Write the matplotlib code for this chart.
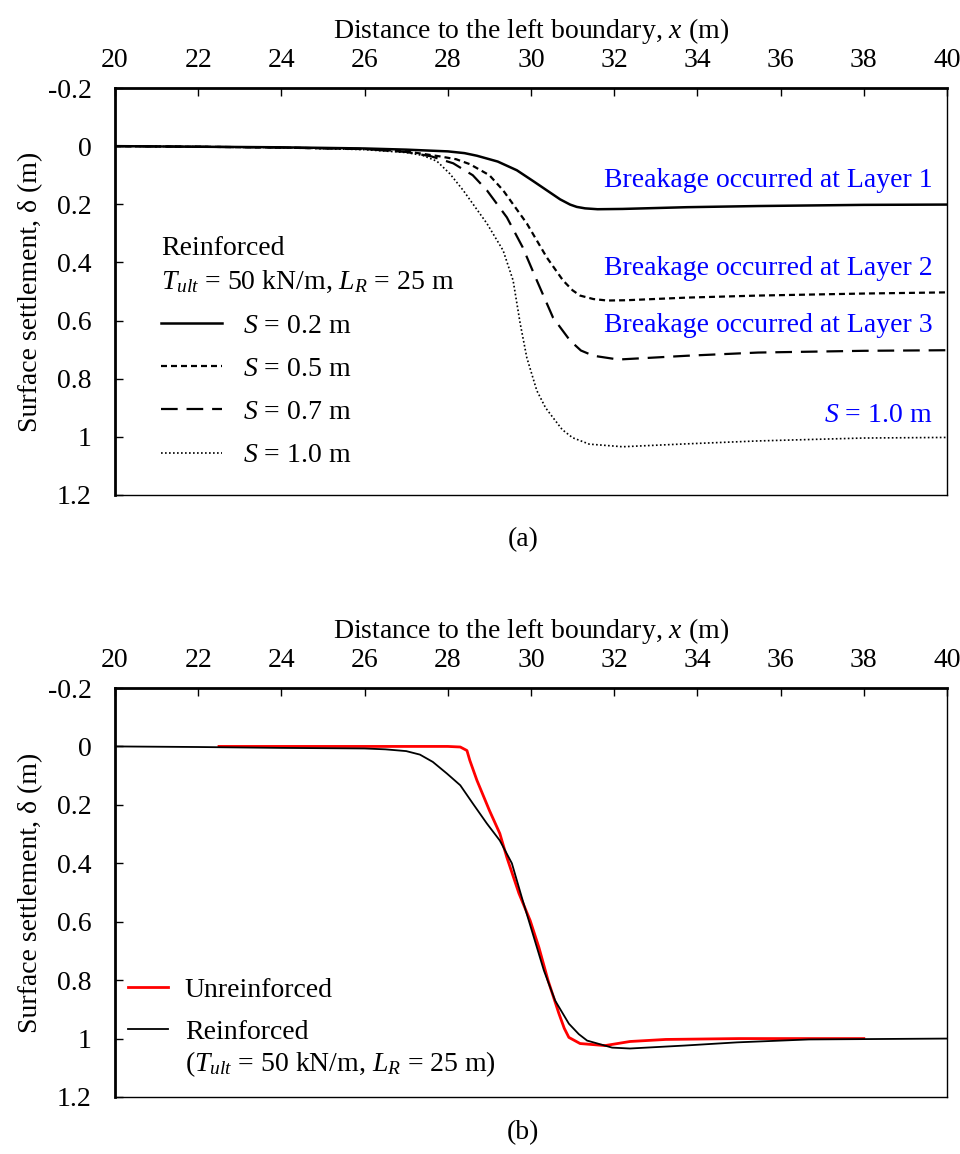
import numpy as np
import matplotlib
matplotlib.use('Agg')
import matplotlib.pyplot as plt

# ---------------- data ----------------
# (a) reinforced, Tult = 50 kN/m, LR = 25 m, different S
x_s02 = [20, 22, 24, 26, 27, 28, 28.4, 28.7, 29.2, 29.66, 30.05, 30.38, 30.7, 30.94, 31.1, 31.3, 31.6, 32.2, 33.75, 35.46, 38, 40]
y_s02 = [0, 0.002, 0.004, 0.008, 0.012, 0.018, 0.024, 0.033, 0.053, 0.083, 0.12, 0.152, 0.183, 0.201, 0.209, 0.214, 0.217, 0.216, 0.21, 0.206, 0.202, 0.201]

x_s05 = [20, 22, 24, 26, 27, 27.8, 28.2, 28.53, 29.0, 29.33, 29.9, 30.38, 30.77, 31.0, 31.18, 31.5, 31.83, 32.3, 33.75, 35.46, 38, 40]
y_s05 = [0, 0.002, 0.005, 0.01, 0.018, 0.035, 0.045, 0.062, 0.1, 0.152, 0.266, 0.383, 0.462, 0.496, 0.514, 0.526, 0.531, 0.53, 0.521, 0.514, 0.507, 0.503]

x_s07 = [20, 22, 24, 26, 27, 27.6, 28.13, 28.6, 28.94, 29.42, 29.8, 30.14, 30.53, 30.94, 31.2, 31.5, 32.1, 33.75, 35.46, 38, 40]
y_s07 = [0, 0.002, 0.005, 0.01, 0.02, 0.035, 0.059, 0.1, 0.152, 0.245, 0.348, 0.462, 0.59, 0.669, 0.703, 0.721, 0.734, 0.721, 0.71, 0.704, 0.702]

x_s10 = [20, 22, 24, 26, 27, 27.4, 27.74, 28.05, 28.37, 28.94, 29.33, 29.57, 29.74, 29.9, 30.14, 30.35, 30.53, 30.75, 31.0, 31.4, 32.2, 33.75, 35.46, 38, 40]
y_s10 = [0, 0.002, 0.005, 0.012, 0.022, 0.032, 0.052, 0.095, 0.152, 0.266, 0.359, 0.462, 0.61, 0.728, 0.841, 0.9, 0.934, 0.975, 1.003, 1.025, 1.034, 1.024, 1.014, 1.004, 1.002]

# (b) unreinforced vs reinforced
x_unr = [22.5, 24, 26, 28, 28.3, 28.46, 28.53, 28.7, 29.0, 29.25, 29.42, 29.71, 29.98, 30.19, 30.41, 30.67, 30.8, 30.91, 31.18, 31.78, 32.38, 33.24, 35, 38]
y_unr = [0, 0, 0, 0, 0.002, 0.014, 0.048, 0.116, 0.219, 0.298, 0.38, 0.503, 0.596, 0.688, 0.801, 0.914, 0.965, 0.996, 1.017, 1.024, 1.01, 1.003, 1.0, 1.0]

x_rei = [20, 22, 24, 26, 26.5, 27.0, 27.33, 27.64, 27.98, 28.3, 28.6, 28.94, 29.25, 29.54, 29.8, 30.07, 30.31, 30.58, 30.91, 31.15, 31.35, 31.95, 32.38, 33.68, 34.95, 36.68, 40]
y_rei = [0, 0.002, 0.005, 0.007, 0.01, 0.016, 0.028, 0.053, 0.093, 0.133, 0.195, 0.264, 0.322, 0.40, 0.527, 0.654, 0.767, 0.87, 0.949, 0.985, 1.007, 1.031, 1.034, 1.024, 1.013, 1.003, 1.0]

xticks = np.arange(20, 41, 2)
yticks = [-0.2, 0, 0.2, 0.4, 0.6, 0.8, 1.0, 1.2]
ytick_labels = ['-0.2', '0', '0.2', '0.4', '0.6', '0.8', '1', '1.2']
# -----------------------------------------------------------

plt.rcParams['font.family'] = ['Liberation Serif', 'DejaVu Serif']
plt.rcParams['mathtext.fontset'] = 'custom'
plt.rcParams['mathtext.rm'] = 'Liberation Serif'
plt.rcParams['mathtext.it'] = 'Liberation Serif:italic'
FS = 20

fig = plt.figure(figsize=(9.6, 11.54), dpi=100)
ax1 = fig.add_axes([115/960, 1-495/1154, 832/960, 407/1154])
ax2 = fig.add_axes([115/960, 1-1097/1154, 832/960, 409/1154])


def style(ax):
    ax.set_xlim(20, 40)
    ax.set_ylim(1.2, -0.2)
    ax.xaxis.set_ticks_position('top')
    ax.xaxis.set_label_position('top')
    ax.set_xticks(xticks)
    ax.set_yticks(yticks)
    ax.set_yticklabels(ytick_labels)
    ax.tick_params(axis='x', direction='in', length=6, width=1, pad=11, labelsize=FS)
    ax.tick_params(axis='y', direction='in', length=6, width=1, pad=17, labelsize=FS)
    ax.spines['top'].set_linewidth(2)
    ax.spines['left'].set_linewidth(2)
    ax.spines['bottom'].set_linewidth(1)
    ax.spines['right'].set_linewidth(1)
    ax.set_xlabel('Distance to the left boundary, $x$ (m)', fontsize=FS, labelpad=7)
    ax.set_ylabel('Surface settlement, \u03b4 (m)', fontsize=FS, labelpad=3)


style(ax1)
ax1.plot(x_s02, y_s02, color='black', lw=1.8, ls='-', label='$S$ = 0.2 m')
ax1.plot(x_s05, y_s05, color='black', lw=1.6, ls=(0, (2.7, 1.8)), label='$S$ = 0.5 m')
ax1.plot(x_s07, y_s07, color='black', lw=1.6, ls=(0, (7.5, 4)), label='$S$ = 0.7 m')
ax1.plot(x_s10, y_s10, color='black', lw=1.2, ls=(0, (1, 1.4)), label='$S$ = 1.0 m')
leg = ax1.legend(loc='upper left', bbox_to_anchor=(0.055, 0.636), frameon=False, fontsize=FS,
                 title='Reinforced\n$T_{ult}$ = 50 kN/m, $L_R$ = 25 m', title_fontsize=FS,
                 alignment='left', handlelength=2.2, handletextpad=0.75, labelspacing=0.64,
                 borderpad=0, borderaxespad=0)
leg.get_title().set_linespacing(1.4)

blue = '#0000FF'
ax1.text(39.65, 0.117, 'Breakage occurred at Layer 1', color=blue, fontsize=FS, ha='right', va='center')
ax1.text(39.65, 0.42, 'Breakage occurred at Layer 2', color=blue, fontsize=FS, ha='right', va='center')
ax1.text(39.65, 0.617, 'Breakage occurred at Layer 3', color=blue, fontsize=FS, ha='right', va='center')
ax1.text(39.65, 0.928, '$S$ = 1.0 m', color=blue, fontsize=FS, ha='right', va='center')

style(ax2)
ax2.plot(x_unr, y_unr, color='#FF0000', lw=2.0, label='Unreinforced')
ax2.plot(x_rei, y_rei, color='black', lw=1.3, label='Reinforced')
ax2.legend(loc='upper left', bbox_to_anchor=(0.0156, 0.292), frameon=False, fontsize=FS,
           handlelength=1.45, handletextpad=0.6, labelspacing=0.6, borderpad=0, borderaxespad=0)
ax2.text(185/960, 1-1064/1154, '($T_{ult}$ = 50 kN/m, $L_R$ = 25 m)', transform=fig.transFigure,
         fontsize=FS, ha='left', va='center')

fig.text(523/960, 1-540/1154, '(a)', fontsize=FS, ha='center', va='center')
fig.text(523/960, 1-1133/1154, '(b)', fontsize=FS, ha='center', va='center')

fig.savefig('out.png', dpi=100)
plt.close(fig)
